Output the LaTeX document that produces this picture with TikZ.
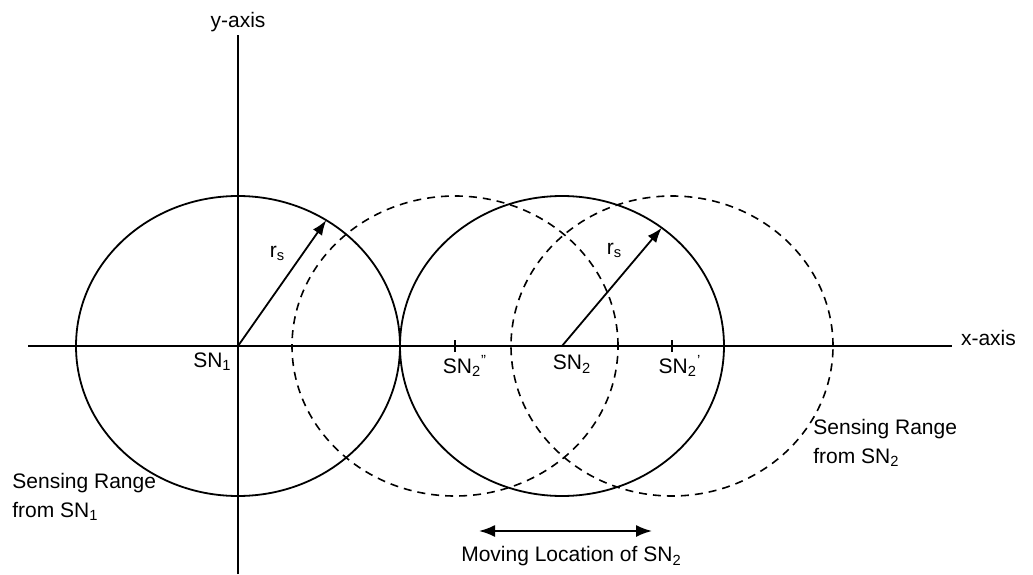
\documentclass[tikz,border=0pt]{standalone}
\usepackage{fontspec}
\setmainfont{Liberation Sans}
\usetikzlibrary{arrows.meta, positioning}

\begin{document}
\begin{tikzpicture}[x=0.5pt, y=0.5pt, font=\fontsize{10.5}{14.5}\selectfont]
\useasboundingbox (0,0) rectangle (1033,574);
\tikzset{sensing/.style={draw=black, line width=0.9pt},
  moved/.style={draw=black, line width=0.8pt, dash pattern=on 4pt off 3pt},
  rad/.style={line width=0.9pt, -{Latex[length=7.5pt,width=5.5pt]}}}
 % sensor nodes on the x-axis
 \coordinate (sn1) at (238,228);
 \coordinate (sn2) at (562,228);
 \coordinate (sn2b) at (455,228);
 \coordinate (sn2a) at (672,228);
 \coordinate (xl) at (28,228);
 \coordinate (xr) at (952,228);
 \coordinate (yb) at (238,0);
 \coordinate (yt) at (238,539);
 \coordinate (ml) at (479,43);
 \coordinate (mr) at (652,43);

 % axes
 \draw[line width=0.9pt] (xl) -- (xr);
 \draw[line width=0.9pt] (yb) -- (yt);
 \node (xlab) [right=1pt of xr, yshift=4pt] {x-axis};
 \node (ylab) [anchor=base] at ([yshift=3.5pt]yt) {y-axis};

 % sensing ranges
 \draw[sensing] (sn1) ellipse [x radius=162, y radius=150];
 \draw[sensing] (sn2) ellipse [x radius=162, y radius=150];
 \draw[moved] (sn2b) ellipse [x radius=163, y radius=150];
 \draw[moved] (sn2a) ellipse [x radius=161, y radius=150];

 % ticks
 \draw[line width=0.8pt] ([yshift=-3pt]sn2b) -- ([yshift=3pt]sn2b);
 \draw[line width=0.8pt] ([yshift=-3pt]sn2a) -- ([yshift=3pt]sn2a);

 % radius arrows
 \path (sn1) ++(57:162 and 150) coordinate (tip1);
 \path (sn2) ++(52:162 and 150) coordinate (tip2);
 \draw[rad] (sn1) -- (tip1) node[pos=0.62, above left=0pt] {r\textsubscript{s}};
 \draw[rad] (sn2) -- (tip2) node[pos=0.68, above left=0pt] {r\textsubscript{s}};

 % labels
 \node (lsn1) [anchor=north east, inner sep=3pt] at (sn1) {SN\textsubscript{1}};
 \node (lsn2b) [below=1pt of sn2b, xshift=5pt] {SN\textsubscript{2}\textsuperscript{''}};
 \node (lsn2) [below=1pt of sn2, xshift=5pt] {SN\textsubscript{2}};
 \node (lsn2a) [below=1pt of sn2a, xshift=4pt] {SN\textsubscript{2}\textsuperscript{'}};
 \node (rng1) [align=left, anchor=west, inner sep=0pt] at (12,77) {Sensing Range\\from SN\textsubscript{1}};
 \node (rng2) [align=left, anchor=west, inner sep=0pt] at (813,131) {Sensing Range\\from SN\textsubscript{2}};

 % moving location
 \draw[line width=0.9pt, {Latex[length=8pt,width=6pt]}-{Latex[length=8pt,width=6pt]}] (ml) -- (mr)
   node[midway, below=4pt, xshift=3pt] {Moving Location of SN\textsubscript{2}};
\end{tikzpicture}
\end{document}
